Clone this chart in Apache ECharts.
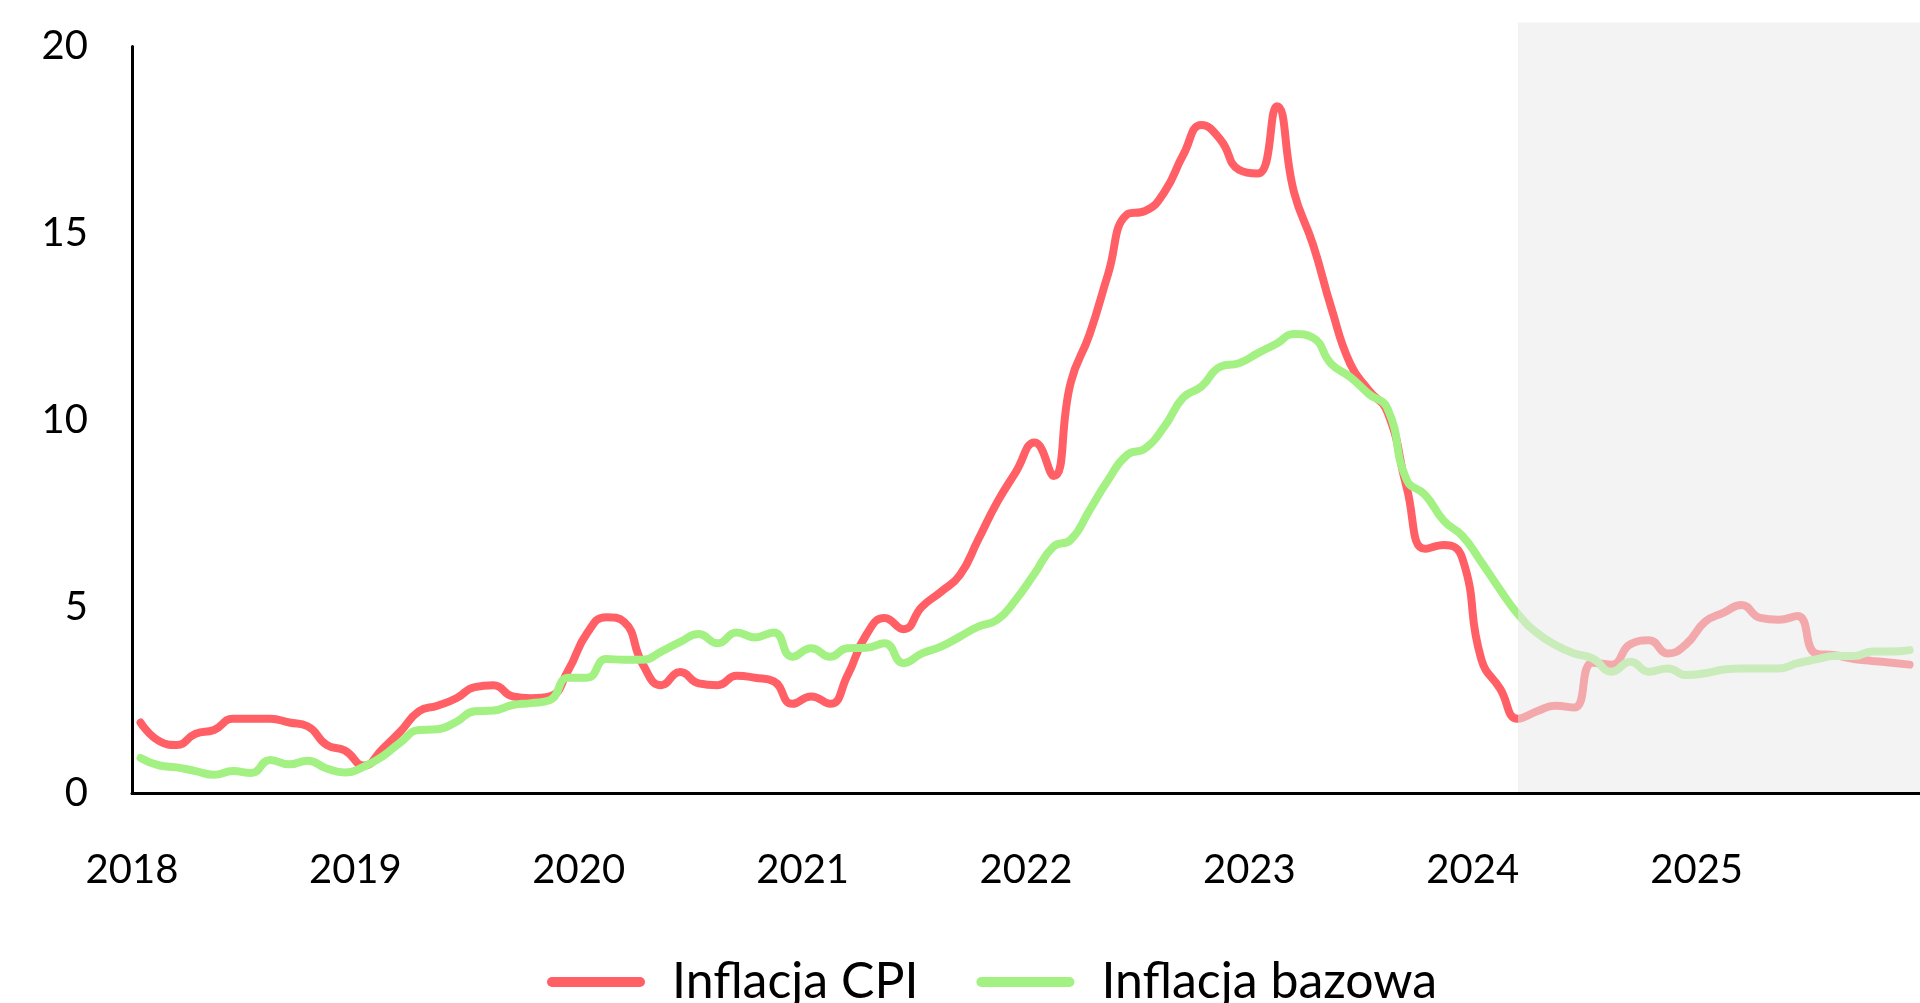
<!DOCTYPE html>
<html>
<head>
<meta charset="utf-8">
<script src="https://cdn.jsdelivr.net/npm/echarts@6/dist/echarts.min.js"></script>
<style>
    html, body {margin: 0; padding: 0; background: #fff;}
    #chart_1 {width: 1920px; height: 1003px;}
</style>
</head>
<body>
<div id="chart_1"></div>
<script>
var years = [2018, 2019, 2020, 2021, 2022, 2023, 2024, 2025];

// inflacja CPI, r/r, miesięcznie od 01.2018
var cpi = [
    1.9, 1.4, 1.3, 1.6, 1.7, 2.0, 2.0, 2.0, 1.9, 1.8, 1.3, 1.15,
    0.75, 1.2, 1.65, 2.2, 2.35, 2.55, 2.85, 2.9, 2.6, 2.55, 2.6, 3.3,
    4.3, 4.72, 4.6, 3.45, 2.9, 3.25, 2.95, 2.9, 3.15, 3.1, 3.0, 2.4,
    2.6, 2.4, 3.15, 4.25, 4.7, 4.4, 5.0, 5.4, 5.85, 6.8, 7.8, 8.6,
    9.4, 8.5, 11.0, 12.3, 13.9, 15.5, 15.6, 16.1, 17.1, 17.9, 17.5, 16.7,
    16.6, 18.4, 16.1, 14.7, 13.0, 11.5, 10.8, 10.2, 8.2, 6.55, 6.65, 6.3,
    3.6, 2.8, 2.0, 2.2, 2.35, 2.3, 3.5, 3.45, 4.0, 4.1, 3.75, 4.0,
    4.6, 4.85, 5.05, 4.7, 4.65, 4.75, 3.75, 3.7, 3.6, 3.55, 3.5, 3.45
];

// inflacja bazowa
var bazowa = [
    0.95, 0.75, 0.7, 0.6, 0.5, 0.6, 0.55, 0.9, 0.78, 0.88, 0.67, 0.56,
    0.72, 1.0, 1.36, 1.7, 1.72, 1.92, 2.2, 2.22, 2.37, 2.42, 2.5, 3.1,
    3.1, 3.6, 3.58, 3.58, 3.8, 4.06, 4.27, 4.02, 4.31, 4.18, 4.31, 3.66,
    3.89, 3.66, 3.89, 3.9, 4.02, 3.49, 3.75, 3.93, 4.2, 4.47, 4.65, 5.18,
    5.89, 6.61, 6.79, 7.59, 8.39, 9.06, 9.24, 9.82, 10.6, 10.9, 11.43, 11.52,
    11.79, 12.05, 12.3, 12.2, 11.5, 11.15, 10.7, 10.3, 8.4, 8.0, 7.3, 6.9,
    6.2, 5.45, 4.8, 4.3, 3.98, 3.75, 3.62, 3.26, 3.53, 3.26, 3.35, 3.17,
    3.22, 3.32, 3.35, 3.35, 3.35, 3.49, 3.59, 3.68, 3.68, 3.8, 3.8, 3.84
];

var prognozaOd = '2024-03-15';
var osXMin = '2018-01-01';
var osXMax = '2026-01-01';

var months = [];
years.forEach(function (y) {
    for (var m = 1; m <= 12; m++) {
        months.push(y + '-' + (m < 10 ? '0' + m : m) + '-15');
    }
});

function toPairs(vals) {
    return months.map(function (d, i) {
        return [d, vals[i]];
    });
}

var font = 'Lato';
var myChart = echarts.init(document.getElementById('chart_1'));
var option = {
    animation: false,
    grid: {
        left: 132,
        right: 0,
        top: 46.5,
        bottom: 209.5
    },
    legend: {
        data: ['Inflacja CPI', 'Inflacja bazowa'],
        left: 542,
        top: 952,
        icon: 'path://M5,0H93A5,5,0,0,1,93,10H5A5,5,0,0,1,5,0Z',
        itemWidth: 98,
        itemHeight: 10,
        itemGap: 58,
        itemStyle: {borderWidth: 0},
        textStyle: {
            fontFamily: font,
            fontSize: 50,
            color: '#000',
            padding: [0, 0, 0, 22]
        }
    },
    xAxis: {
        type: 'time',
        min: osXMin,
        max: osXMax,
        splitNumber: 8,
        z: 10,
        axisLine: {lineStyle: {color: '#000', width: 3}},
        axisTick: {show: false},
        splitLine: {show: false},
        axisLabel: {
            formatter: '{yyyy}',
            showMaxLabel: false,
            margin: 57,
            fontFamily: font,
            fontSize: 40,
            color: '#000'
        }
    },
    yAxis: {
        type: 'value',
        min: 0,
        max: 20,
        interval: 5,
        z: 10,
        axisLine: {show: true, lineStyle: {color: '#000', width: 3}},
        axisTick: {show: false},
        splitLine: {show: false},
        axisLabel: {
            margin: 44,
            fontFamily: font,
            fontSize: 40,
            color: '#000'
        }
    },
    series: [
        {
            name: 'Inflacja CPI',
            type: 'line',
            smooth: 0.5,
            showSymbol: false,
            symbol: 'none',
            color: '#ff5f65',
            lineStyle: {width: 8, color: '#ff5f65', cap: 'round'},
            data: toPairs(cpi)
        },
        {
            name: 'Inflacja bazowa',
            type: 'line',
            smooth: 0.5,
            showSymbol: false,
            symbol: 'none',
            color: '#a3f083',
            lineStyle: {width: 8, color: '#a3f083', cap: 'round'},
            data: toPairs(bazowa)
        },
        {
            // szary prostokąt nad okresem prognozy
            name: 'prognoza',
            type: 'custom',
            silent: true,
            clip: false,
            z: 5,
            renderItem: function (params, api) {
                var cs = params.coordSys;
                var a = api.coord([api.value(0), 0]);
                return {
                    type: 'rect',
                    shape: {
                        x: a[0],
                        y: cs.y - 24,
                        width: cs.x + cs.width - a[0],
                        height: cs.height + 24
                    },
                    style: {fill: 'rgba(232,232,232,0.54)'}
                };
            },
            data: [[prognozaOd, 0]]
        }
    ]
};

myChart.setOption(option);
</script>
</body>
</html>
